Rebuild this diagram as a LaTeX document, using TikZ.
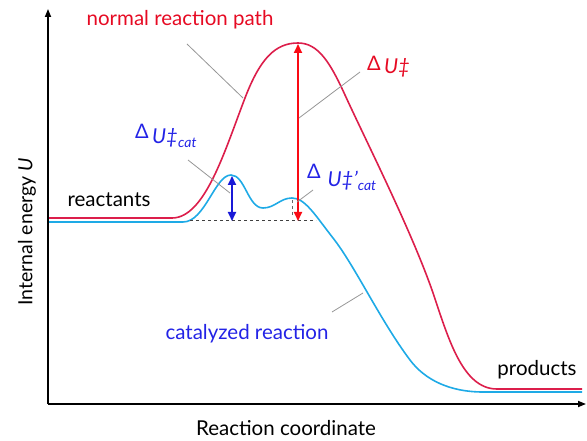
\documentclass[tikz,border=0pt]{standalone}
\usepackage{fontspec}
\setmainfont{Lato}
\usetikzlibrary{arrows.meta}
\definecolor{redcurve}{RGB}{220,30,75}
\definecolor{bluecurve}{RGB}{30,170,230}
\definecolor{redarrow}{RGB}{250,10,20}
\definecolor{bluearrow}{RGB}{25,25,215}
\definecolor{bluetext}{RGB}{35,35,230}
\definecolor{redtext}{RGB}{230,10,35}
\definecolor{leader}{RGB}{150,150,150}
\newcommand{\dlt}{\fontsize{20}{22}\selectfont Δ}
\newcommand{\catsub}{\fontsize{14}{16}\selectfont\textit{cat}}
\tikzset{
  axis/.style={line width=1.6pt, -{Triangle[length=8pt,width=6pt]}},
  curve/.style={line width=1.6pt},
  leaderline/.style={draw=leader, line width=0.8pt},
  dblarrow/.style={line width=1.8pt, {Triangle[length=9pt,width=8pt]}-{Triangle[length=9pt,width=8pt]}},
  lbl/.style={inner sep=0pt, font=\fontsize{20.5}{24}\selectfont},
}
\begin{document}
\begin{tikzpicture}[x=1pt,y=-1pt]
\useasboundingbox (0,0) rectangle (587,441);
% axes
\coordinate (origin) at (48,404);
\coordinate (ytop) at (48,9);
\coordinate (xend) at (586,404);
\draw[axis] (origin) -- (ytop);
\draw[axis] (origin) -- (xend);
% red curve
\draw[curve, redcurve] (49,218) -- (172,218)
  .. controls (205,218) and (225,150) .. (245,98)
  .. controls (260,59) and (275,43) .. (298,43)
  .. controls (318,43) and (330,62) .. (345,95)
  .. controls (368,145) and (410,228) .. (432,290)
  .. controls (448,337) and (462,389) .. (497,389)
  -- (582,389);
% blue curve
\draw[curve, bluecurve] (49,222) -- (183,222)
  .. controls (205,222) and (215,175) .. (231,175)
  .. controls (245,175) and (248,208) .. (263,208)
  .. controls (275,208) and (280,198) .. (292,198)
  .. controls (305,198) and (315,215) .. (333,238)
  .. controls (355,266) and (380,320) .. (410,360)
  .. controls (425,380) and (450,392) .. (483,392)
  -- (582,392);
% baseline dashed
\coordinate (dashL) at (190,220);
\coordinate (dashR) at (316,220);
\draw[dashed, line width=0.8pt, black!75] (dashL) -- (dashR);
\coordinate (tsmall) at (292,200);
\coordinate (bsmall) at (292,218);
\draw[dashed, line width=0.8pt, black!60] (tsmall) -- (bsmall);
% arrows
\coordinate (btop) at (232,176);
\coordinate (bbot) at (232,221);
\draw[dblarrow, bluearrow] (btop) -- (bbot);
\coordinate (rtop) at (298,44);
\coordinate (rbot) at (298,221);
\draw[dblarrow, redarrow] (rtop) -- (rbot);
% labels
\node[lbl, text=redtext] (nrp) at (180,20) {normal reaction path};
\node[lbl, text=redtext, anchor=west] (du) at (367,67) {\raisebox{3pt}{\dlt}\,\textit{U‡}};
\node[lbl, text=bluetext, anchor=west] (ducat) at (135,136) {\raisebox{5pt}{\dlt}\,\textit{U‡}\raisebox{-4pt}{\catsub}};
\node[lbl, text=bluetext, anchor=west] (ducatp) at (307,177) {\raisebox{8pt}{\dlt}\,\,\textit{U‡’}\raisebox{-4pt}{\catsub}};
\node[lbl] (react) at (109,200) {reactants};
\node[lbl] (prod) at (537,370) {products};
\node[lbl, text=bluetext] (cat) at (247,334) {catalyzed reaction};
\node[lbl] (xlab) at (286,428) {Reaction coordinate};
\node[lbl, rotate=90, font=\fontsize{19.5}{22}\selectfont] (ylab) at (27,232) {Internal energy \textit{U}};
% leader lines
\coordinate (l1a) at (187,44);
\coordinate (l1b) at (243,98);
\draw[leaderline] (l1a) -- (l1b);
\coordinate (l2a) at (360,72);
\coordinate (l2b) at (299,118);
\draw[leaderline] (l2a) -- (l2b);
\coordinate (l3a) at (188,160);
\coordinate (l3b) at (230,193);
\draw[leaderline] (l3a) -- (l3b);
\coordinate (l4a) at (313,190);
\coordinate (l4b) at (297,202);
\draw[leaderline] (l4a) -- (l4b);
\coordinate (l5a) at (332,312);
\coordinate (l5b) at (363,293);
\draw[leaderline] (l5a) -- (l5b);
\end{tikzpicture}
\end{document}
